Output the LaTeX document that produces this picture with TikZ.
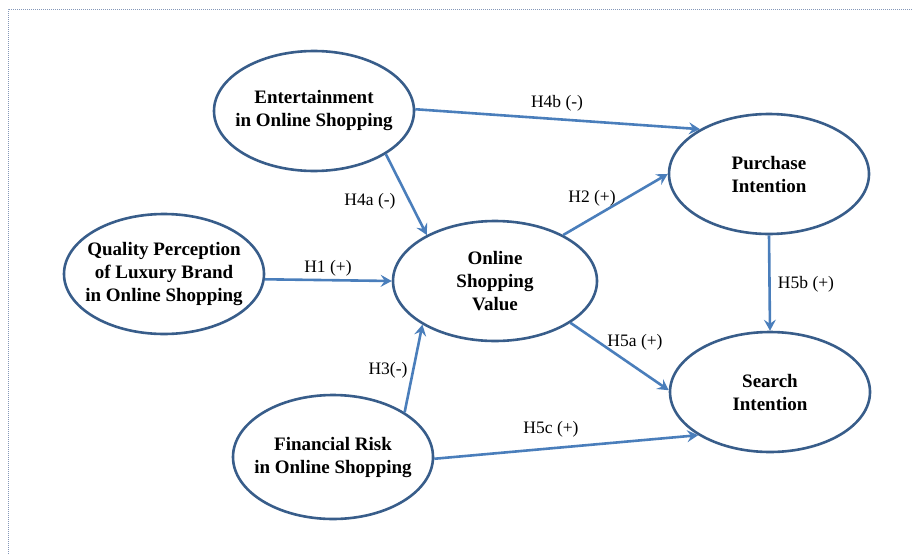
\documentclass[tikz,border=0pt]{standalone}
\usepackage{fontspec}
\setmainfont{Liberation Serif}
\usetikzlibrary{shapes.geometric,arrows.meta}
\definecolor{ovalblue}{HTML}{385D8A}
\definecolor{arrowblue}{HTML}{4A7EBB}
\definecolor{framegray}{HTML}{8497B8}
\begin{document}
\begin{tikzpicture}[x=1pt,y=-1pt,
	construct/.style={ellipse,draw=ovalblue,line width=2.6pt,fill=white,minimum width=200pt,minimum height=120pt,
		inner xsep=-25pt,inner ysep=0pt,align=center,font=\fontsize{19}{23}\selectfont\bfseries},
	hyp/.style={draw=arrowblue,line width=2.6pt,-{Stealth[length=11pt,width=12pt,inset=4pt]}},
	hlabel/.style={font=\fontsize{17.5}{20}\selectfont,inner sep=1pt}]
\useasboundingbox (0,0) rectangle (912,554);
\draw[framegray,line width=1pt,densely dotted] (8,554) -- (8,9) -- (912,9);
\node[construct] (ent) at (314,111) {Entertainment\\in Online Shopping};
\node[construct] (qual) at (164,274) {Quality Perception\\of Luxury Brand\\in Online Shopping};
\node[construct,minimum width=204pt] (osv) at (495,281) {Online\\Shopping\\Value};
\node[construct] (pur) at (769,174) {Purchase\\Intention};
\node[construct] (sea) at (770,392) {Search\\Intention};
\node[construct,minimum height=124pt] (fin) at (333,457) {Financial Risk\\in Online Shopping};
\draw[hyp] (ent.1) -- (pur.147);
\draw[hyp] (ent.-31) -- (osv.146);
\draw[hyp] (qual.-3) -- (osv.west);
\draw[hyp] (osv.34) -- (pur.west);
\draw[hyp] (fin.32) -- (osv.211);
\draw[hyp] (osv.-29) -- (sea.179);
\draw[hyp] (fin.-1) -- (sea.211);
\draw[hyp] (pur.south) -- (sea.north);
\node[hlabel] (lH4b) at (557,103) {H4b (-)};
\node[hlabel] (lH4a) at (370,201) {H4a (-)};
\node[hlabel] (lH1) at (328,268) {H1 (+)};
\node[hlabel] (lH2) at (592,198) {H2 (+)};
\node[hlabel] (lH3) at (388,370) {H3(-)};
\node[hlabel] (lH5a) at (635,342) {H5a (+)};
\node[hlabel] (lH5c) at (551,429) {H5c (+)};
\node[hlabel] (lH5b) at (806,284) {H5b (+)};
\end{tikzpicture}
\end{document}
